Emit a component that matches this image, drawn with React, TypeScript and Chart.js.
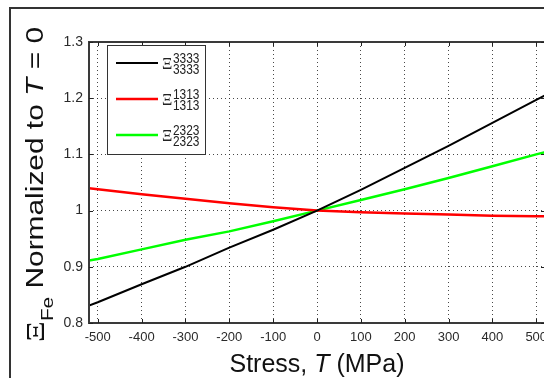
import React, { useEffect, useRef } from 'react';
import { Chart, registerables } from 'chart.js';

Chart.register(...registerables);

// ---- data ----
const stressX = [-520, -500, -400, -300, -200, -100, 0, 100, 200, 300, 400, 500, 520];
const xi3333 = [0.831, 0.837, 0.869, 0.9, 0.934, 0.966, 1.0, 1.037, 1.076, 1.115, 1.156, 1.197, 1.205];
const xi1313 = [1.04, 1.038, 1.029, 1.021, 1.013, 1.006, 1.0, 0.997, 0.995, 0.993, 0.991, 0.99, 0.99];
const xi2323 = [0.911, 0.914, 0.931, 0.948, 0.963, 0.981, 1.0, 1.019, 1.038, 1.058, 1.079, 1.1, 1.104];

const xTickValues = [-500, -400, -300, -200, -100, 0, 100, 200, 300, 400, 500];
const yTickValues = [0.8, 0.9, 1, 1.1, 1.2, 1.3];

const seriesNames = ['Ξ3333,3333', 'Ξ1313,1313', 'Ξ2323,2323'];
const legendSup = ['3333', '1313', '2323'];
const legendSub = ['3333', '1313', '2323'];

const xTitleParts = ['Stress, ', 'T', ' (MPa)'];
const yTitleParts = ['Ξ', 'Fe', ' Normalized to ', 'T', ' = 0'];

const SANS = "'Liberation Sans', Arial, Helvetica, sans-serif";
const SERIF = "'Liberation Serif', 'Times New Roman', serif";

const decorPlugin = {
  id: 'decor',
  beforeDraw(chart: any) {
    const ctx = chart.ctx;
    ctx.save();
    ctx.fillStyle = '#ffffff';
    ctx.fillRect(0, 0, chart.width, chart.height);
    ctx.restore();
  },
  afterDatasetsDraw(chart: any) {
    const { ctx, chartArea: a, scales } = chart;
    const xs = scales.x;
    const ys = scales.y;
    ctx.save();

    // axes box
    ctx.strokeStyle = '#3a3a3a';
    ctx.lineWidth = 2;
    ctx.strokeRect(a.left, a.top, a.right - a.left, a.bottom - a.top);

    // inward tick marks
    ctx.lineWidth = 1;
    ctx.strokeStyle = '#222';
    ctx.beginPath();
    for (const v of xTickValues) {
      const px = Math.round(xs.getPixelForValue(v)) + 0.5;
      ctx.moveTo(px, a.top);
      ctx.lineTo(px, a.top + 4);
      ctx.moveTo(px, a.bottom);
      ctx.lineTo(px, a.bottom - 4);
    }
    for (const v of yTickValues) {
      const py = Math.round(ys.getPixelForValue(v)) + 0.5;
      ctx.moveTo(a.left, py);
      ctx.lineTo(a.left + 4, py);
      ctx.moveTo(a.right, py);
      ctx.lineTo(a.right - 4, py);
    }
    ctx.stroke();

    // legend
    const lx = a.left + 18;
    const ly = a.top + 3;
    const lw = 98;
    const lh = 109;
    ctx.fillStyle = '#ffffff';
    ctx.fillRect(lx, ly, lw, lh);
    ctx.strokeStyle = '#333';
    ctx.lineWidth = 1;
    ctx.strokeRect(lx + 0.5, ly + 0.5, lw, lh);
    chart.data.datasets.forEach((ds: any, i: number) => {
      const yy = ly + 18 + i * 36;
      ctx.strokeStyle = ds.borderColor;
      ctx.lineWidth = ds.borderWidth;
      ctx.beginPath();
      ctx.moveTo(lx + 9, yy);
      ctx.lineTo(lx + 51, yy);
      ctx.stroke();
      ctx.fillStyle = '#222';
      ctx.textAlign = 'left';
      ctx.textBaseline = 'alphabetic';
      ctx.font = `16px ${SERIF}`;
      ctx.fillText('Ξ', lx + 55, yy + 6);
      ctx.save();
      ctx.translate(lx + 66, yy);
      ctx.scale(0.85, 1);
      ctx.font = `14px ${SANS}`;
      ctx.fillText(legendSup[i], 0, 0);
      ctx.fillText(legendSub[i], 0, 11);
      ctx.restore();
    });

    // x title
    ctx.fillStyle = '#111';
    ctx.textBaseline = 'alphabetic';
    ctx.textAlign = 'left';
    const fN = `25px ${SANS}`;
    const fI = `italic 25px ${SANS}`;
    const xFonts = [fN, fI, fN];
    let total = 0;
    const widths = xTitleParts.map((t, i) => {
      ctx.font = xFonts[i];
      const w = ctx.measureText(t).width;
      total += w;
      return w;
    });
    let cx = (a.left + a.right) / 2 - total / 2;
    xTitleParts.forEach((t, i) => {
      ctx.font = xFonts[i];
      ctx.fillText(t, cx, a.bottom + 49);
      cx += widths[i];
    });

    // y title (rotated, stretched along its length)
    const gN = `23px ${SANS}`;
    const gI = `italic 23px ${SANS}`;
    const yFonts = [`25px ${SERIF}`, `16px ${SANS}`, gN, gI, gN];
    const yOff = [1, 10, 0, 0, 0];
    let ytotal = 0;
    const yw = yTitleParts.map((t, i) => {
      ctx.font = yFonts[i];
      const w = ctx.measureText(t).width;
      ytotal += w;
      return w;
    });
    const span = 315;
    const sx = span / ytotal;
    ctx.save();
    ctx.translate(a.left - 46, (a.top + a.bottom) / 2 + 2);
    ctx.rotate(-Math.PI / 2);
    ctx.scale(sx, 1);
    let cy = -ytotal / 2;
    yTitleParts.forEach((t, i) => {
      ctx.font = yFonts[i];
      ctx.fillText(t, cy, yOff[i]);
      cy += yw[i];
    });
    ctx.restore();

    // figure frame
    ctx.strokeStyle = '#333';
    ctx.lineWidth = 2;
    ctx.strokeRect(10, 8, 800, 600);

    ctx.restore();
  },
};

export default function App() {
  const canvasRef = useRef<HTMLCanvasElement | null>(null);

  useEffect(() => {
    const canvas = canvasRef.current;
    if (!canvas) return;
    const mk = (ys: number[]) => stressX.map((x, i) => ({ x, y: ys[i] }));
    const chart = new Chart(canvas, {
      type: 'line',
      data: {
        datasets: [
          { label: seriesNames[0], data: mk(xi3333), borderColor: '#000000', borderWidth: 2, pointRadius: 0, tension: 0 },
          { label: seriesNames[1], data: mk(xi1313), borderColor: '#ff0000', borderWidth: 2.5, pointRadius: 0, tension: 0 },
          { label: seriesNames[2], data: mk(xi2323), borderColor: '#00ff00', borderWidth: 2.5, pointRadius: 0, tension: 0 },
        ],
      },
      options: {
        responsive: false,
        animation: false,
        events: [],
        layout: { padding: { top: 42, right: 15, left: 0, bottom: 0 } },
        plugins: {
          legend: { display: false },
          tooltip: { enabled: false },
          title: { display: false },
        },
        scales: {
          x: {
            type: 'linear',
            min: -520,
            max: 520,
            afterBuildTicks: (s: any) => {
              s.ticks = xTickValues.map((v) => ({ value: v }));
            },
            afterFit: (s: any) => {
              s.height = 55;
            },
            ticks: {
              autoSkip: false,
              maxRotation: 0,
              padding: 7,
              color: '#2a2a2a',
              font: { family: SANS, size: 13 },
              callback: (v: any) => String(v),
            },
            grid: { color: 'rgba(40,40,40,0.85)', lineWidth: 1, drawTicks: false },
            border: { display: false, dash: [1, 3] },
          },
          y: {
            type: 'linear',
            min: 0.8,
            max: 1.3,
            afterBuildTicks: (s: any) => {
              s.ticks = yTickValues.map((v) => ({ value: v }));
            },
            afterFit: (s: any) => {
              s.width = 89;
            },
            ticks: {
              autoSkip: false,
              padding: 6,
              color: '#2a2a2a',
              font: { family: SANS, size: 14 },
              callback: (v: any) => String(Math.round(v * 10) / 10),
            },
            grid: { color: 'rgba(40,40,40,0.85)', lineWidth: 1, drawTicks: false },
            border: { display: false, dash: [1, 3] },
          },
        },
      },
      plugins: [decorPlugin],
    } as any);
    return () => chart.destroy();
  }, []);

  return (
    <div
      style={{
        position: 'fixed',
        left: 0,
        top: 0,
        width: 544,
        height: 378,
        overflow: 'hidden',
        background: '#fff',
      }}
    >
      <canvas ref={canvasRef} width={560} height={378} style={{ width: 560, height: 378, display: 'block' }} />
    </div>
  );
}
